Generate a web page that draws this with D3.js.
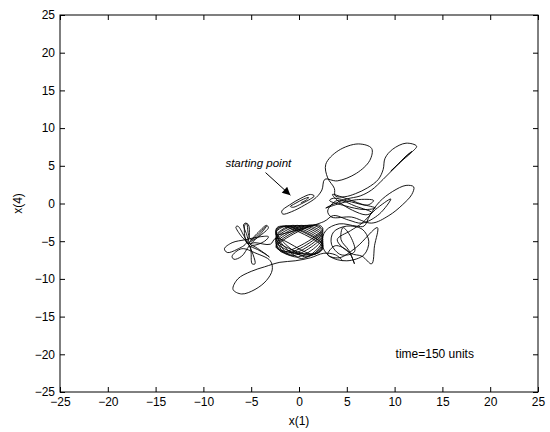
<!DOCTYPE html>
<html>
<head>
<meta charset="utf-8">
<script src="https://d3js.org/d3.v7.min.js"></script>
<style>
  body { margin: 0; background: #fff; }
  text { font-family: "Liberation Sans", Arial, Helvetica, sans-serif; }
</style>
</head>
<body>
<script>
// axis ticks
var ticks = [-25, -20, -15, -10, -5, 0, 5, 10, 15, 20, 25];

// trajectory pieces, [x(1), x(4)]
var startSpiral = [[0.2,0.1],[0.8,0.5],[1.0,0.8],[0.5,0.6],[-0.4,0.0],[-0.9,-0.4],[-0.6,-0.5],[0.3,0.0],
  [1.2,0.6],[1.6,1.0],[1.2,1.2],[0.2,0.7],[-1.0,-0.2],[-1.8,-1.0],[-1.7,-1.4],[-0.8,-1.1],[0.6,-0.2],
  [1.8,0.8],[2.4,1.8]];

var upperLoops = [[2.7,3.2],[4.0,3.0],[6.0,4.0],[7.4,5.7],[7.6,7.3],[6.2,7.9],[4.1,7.0],[2.8,5.2],
  [3.0,3.4],[3.7,2.0],[3.8,1.0],[4.8,0.9],[5.9,1.3],[7.2,2.1],
  [8.3,3.2],[8.8,4.5],[9.0,6.0],[9.8,7.2],[11.2,8.0],[12.3,7.6],[11.7,6.7],[10.6,5.5],[9.6,4.3],
  [10.2,5.0],[11.2,6.3],[11.8,6.9],[11.0,6.0],[9.9,4.6],[8.8,3.2],[7.6,1.8],[6.4,1.0]];

var crossing = [[5.0,0.6],[3.4,-0.2],[2.8,-0.6],[4.0,-0.1],[6.0,0.5],[7.8,0.4],[7.2,-0.2],[5.5,0.2],
  [3.6,0.7],[3.2,0.4],[4.8,-0.3],[6.8,-0.8],[8.0,-0.6],[6.6,-0.1],[4.6,0.8],[3.5,1.2],[4.2,0.2],
  [5.6,-0.9],[7.0,-1.5],[7.6,-1.2],[6.0,-0.4],[4.0,0.4],[3.0,-1.0],[3.4,-1.8],[5.5,-1.8],[7.6,-2.6],
  [9.4,-1.6],[10.8,-0.2],[11.8,1.2],[12.0,2.2],[11.2,2.4],[9.8,1.6],[8.4,0.2],[7.4,-1.6],[6.8,-3.0]];

var rightCluster = [[6.0,-3.0],[4.2,-2.7],[2.8,-3.6],[2.4,-5.4],[3.2,-7.0],[5.0,-7.6],[6.8,-6.8],
  [7.3,-5.0],[6.6,-3.4],[5.0,-3.0],[3.6,-3.8],[3.4,-5.4],[4.4,-6.8],[5.8,-6.4],[5.4,-4.4],[4.6,-3.2],
  [4.4,-4.8],[5.2,-6.2],[5.8,-8.0],[5.2,-6.4],[3.8,-5.6],[3.0,-6.8],[4.2,-7.2],[6.0,-5.8],[8.2,-3.2],
  [7.9,-5.6],[7.6,-8.0],[6.6,-7.0],[5.4,-6.6],[4.0,-4.8],[5.4,-3.6],[6.6,-2.6],[8.0,-0.8],[9.6,0.6],
  [8.4,-1.4],[6.6,-2.6],[5.2,-2.2],[3.6,-1.6],[2.6,-2.4]];

// dense hatched knot around (0,-5): bounce points on its rim
var centerKnot = [[-2.4,-4.15],[-0.65,-2.9],[2.5,-5.05],[0.75,-7.1],
  [-2.4,-3.7],[-1.36,-2.95],[2.5,-5.5],[1.46,-6.8],
  [-2.4,-4.75],[0.29,-2.9],[2.5,-4.45],[-0.2,-7.1],
  [-2.4,-5.35],[1.22,-2.85],[2.5,-3.85],[-1.1,-6.7],
  [-2.4,-3.4],[-1.83,-3.0],[2.5,-5.8],[1.93,-6.6],
  [-2.4,-5.8],[1.93,-2.8],[2.5,-3.4],[-1.83,-6.4],
  [-2.4,-4.45],[-0.18,-2.9],[2.5,-4.75],[0.28,-7.3],
  [-2.4,-3.9],[-1.0,-2.95],[2.5,-5.3],[1.1,-6.95],
  [-2.4,-5.05],[0.75,-2.9],[2.5,-4.15],[-0.65,-6.9],
  [-2.4,-5.6],[1.58,-2.85],[2.5,-3.6],[-1.48,-6.55],
  [-2.4,-3.6],[-1.48,-3.0],[2.5,-5.6],[1.58,-6.75],
  [-2.4,-4.6],[-3.0,-5.4]];

var leftFlower = [[-4.6,-5.2],[-5.4,-5.3],
  [-5.7,-4.0],[-5.6,-2.7],[-5.3,-2.8],[-5.2,-4.2],[-5.4,-5.3],
  [-4.4,-4.0],[-3.4,-2.9],[-3.2,-3.2],[-4.2,-4.4],[-5.3,-5.4],
  [-4.2,-6.2],[-3.3,-6.9],[-3.1,-7.1],[-3.6,-6.6],[-5.0,-5.6],
  [-5.0,-6.6],[-4.9,-8.0],[-4.6,-8.0],[-4.8,-6.8],[-5.4,-5.2],
  [-6.0,-4.4],[-6.6,-3.1],[-6.4,-3.0],[-5.8,-4.2],[-5.5,-5.2],
  [-6.5,-6.1],[-7.5,-6.5],[-7.8,-6.0],[-7.0,-5.2],[-5.6,-4.8],[-4.0,-4.4],[-3.2,-4.4],[-3.6,-5.0],[-5.0,-5.5],
  [-5.5,-4.0],[-5.8,-2.8],[-5.5,-2.6],[-5.3,-4.0],
  [-5.0,-4.8],[-3.6,-3.2],[-3.4,-3.0],[-4.0,-4.0],[-5.2,-5.6],
  [-6.0,-7.0],[-6.8,-7.4],[-7.0,-7.0],[-6.0,-6.0]];

var bottomLoop = [[-4.5,-6.6],[-3.0,-7.6],[-2.8,-8.8],[-3.4,-10.2],[-4.6,-11.4],
  [-6.0,-12.0],[-6.9,-11.4],[-6.4,-10.0],[-5.0,-9.0],[-3.6,-8.4],[-2.0,-7.8],[-0.4,-7.6],[1.2,-7.2],
  [2.6,-6.6],[3.8,-6.8],[4.6,-7.6]];

var trajectory = [].concat(startSpiral, upperLoops, crossing, rightCluster,
  centerKnot, leftFlower, bottomLoop);

var width = 550,
    height = 432;

var svg = d3.select("body").append("svg")
    .attr("width", width)
    .attr("height", height);

var x = d3.scaleLinear().domain([-25, 25]).range([60, 538]);
var y = d3.scaleLinear().domain([-25, 25]).range([392, 15]);

// the curve itself
var line = d3.line()
    .x(function(d) { return x(d[0]); })
    .y(function(d) { return y(d[1]); })
    .curve(d3.curveCatmullRom.alpha(0.5));

svg.append("path")
    .datum(trajectory)
    .attr("d", line)
    .attr("fill", "none")
    .attr("stroke", "#000")
    .attr("stroke-width", 0.9);

// axes, ticks pointing inwards like matlab
function styleAxis(g) {
  g.select(".domain").remove();
  g.selectAll(".tick line").attr("stroke", "#000");
  g.selectAll("text").attr("font-size", 12).attr("fill", "#000");
}

svg.append("g")
    .attr("transform", "translate(0,392)")
    .call(d3.axisBottom(x).tickValues(ticks).tickSize(-5).tickPadding(5))
    .call(styleAxis);

svg.append("g")
    .attr("transform", "translate(60,0)")
    .call(d3.axisLeft(y).tickValues(ticks).tickSize(-5).tickPadding(5))
    .call(styleAxis);

svg.append("g")
    .attr("transform", "translate(0,15)")
    .call(d3.axisTop(x).tickValues(ticks).tickSize(-5).tickFormat(""))
    .call(styleAxis);

svg.append("g")
    .attr("transform", "translate(538,0)")
    .call(d3.axisRight(y).tickValues(ticks).tickSize(-5).tickFormat(""))
    .call(styleAxis);

svg.append("rect")
    .attr("x", 60).attr("y", 15)
    .attr("width", 478).attr("height", 377)
    .attr("fill", "none")
    .attr("stroke", "#000")
    .attr("stroke-width", 1);

// axis labels
svg.append("text")
    .attr("x", 299).attr("y", 425)
    .attr("text-anchor", "middle")
    .attr("font-size", 12)
    .text("x(1)");

svg.append("text")
    .attr("transform", "translate(22," + y(0) + ") rotate(-90)")
    .attr("text-anchor", "middle")
    .attr("font-size", 12)
    .text("x(4)");

// annotations
svg.append("text")
    .attr("x", x(-7.7)).attr("y", y(4.9))
    .attr("font-size", 11.5)
    .attr("font-style", "italic")
    .text("starting point");

svg.append("defs").append("marker")
    .attr("id", "head")
    .attr("viewBox", "0 0 10 10")
    .attr("refX", 10).attr("refY", 5)
    .attr("markerWidth", 10).attr("markerHeight", 8)
    .attr("markerUnits", "userSpaceOnUse")
    .attr("orient", "auto")
  .append("path")
    .attr("d", "M0,0L10,5L0,10z")
    .attr("fill", "#000");

svg.append("line")
    .attr("x1", x(-3.5)).attr("y1", y(4.1))
    .attr("x2", x(-0.9)).attr("y2", y(1.1))
    .attr("stroke", "#000")
    .attr("stroke-width", 1)
    .attr("marker-end", "url(#head)");

svg.append("text")
    .attr("x", x(10.1)).attr("y", y(-20.5))
    .attr("font-size", 12)
    .text("time=150 units");
</script>
</body>
</html>
